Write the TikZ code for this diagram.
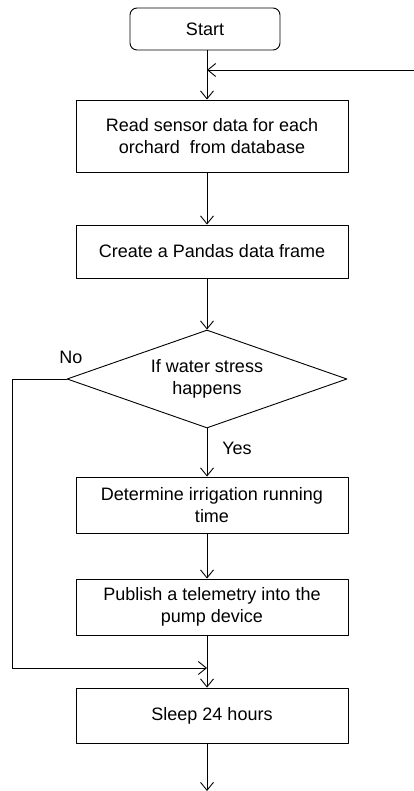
\documentclass[tikz,border=0pt]{standalone}
\usepackage{fontspec}
\setmainfont{Liberation Sans}
\usetikzlibrary{arrows.meta,shapes.geometric}

\begin{document}
\begin{tikzpicture}[x=1pt, y=-1pt, font=\fontsize{18}{22}\selectfont, line join=round, line width=0.9pt,
	>={Straight Barb[length=8pt,width=13pt]},
	stepbox/.style={draw, minimum width=272pt, inner sep=0pt, align=center},
	startbox/.style={draw, rounded corners=7pt, minimum width=150pt, minimum height=42pt, inner sep=0pt},
	decision/.style={draw, diamond, aspect=2.86, minimum width=280pt, minimum height=98pt, inner sep=0pt, align=center}]
	\useasboundingbox (0,0) rectangle (414,791);
	\node[startbox] (start) at (205,29) {Start};
	\node[stepbox, minimum height=72pt] (read) at (212,136) {Read sensor data for each\\orchard\ \ from database};
	\node[stepbox, minimum height=53pt] (frame) at (212,251.5) {Create a Pandas data frame};
	\node[decision] (stress) at (207,379) {If water stress\\happens};
	\node[stepbox, minimum height=56pt] (runtime) at (212,505) {Determine irrigation running\\time};
	\node[stepbox, minimum height=56pt] (publish) at (212,607) {Publish a telemetry into the\\pump device};
	\node[stepbox, minimum height=55pt] (sleep) at (212,715.5) {Sleep 24 hours};
	\node (no) at (71,357) {No};
	\node (yes) at (237,448) {Yes};
	\coordinate (back) at (414,70);
	\coordinate (corner) at (12,668);
	\coordinate (end) at (207,791);
	\foreach \p/\q in {start/read,read/frame,runtime/publish,publish/sleep}{
		\draw[->] (\p.south -| stress) -- (\q.north -| stress);}
	\draw[->] (frame.south -| stress) -- (stress.north);
	\draw[->] (stress.south) -- (runtime.north -| stress);
	\draw[->] (back) -- (back -| stress);
	\draw[->] (stress.west) -- (stress.west -| corner) -- (corner) -- (corner -| stress);
	\draw[->] (sleep.south -| stress) -- (end);
\end{tikzpicture}
\end{document}
